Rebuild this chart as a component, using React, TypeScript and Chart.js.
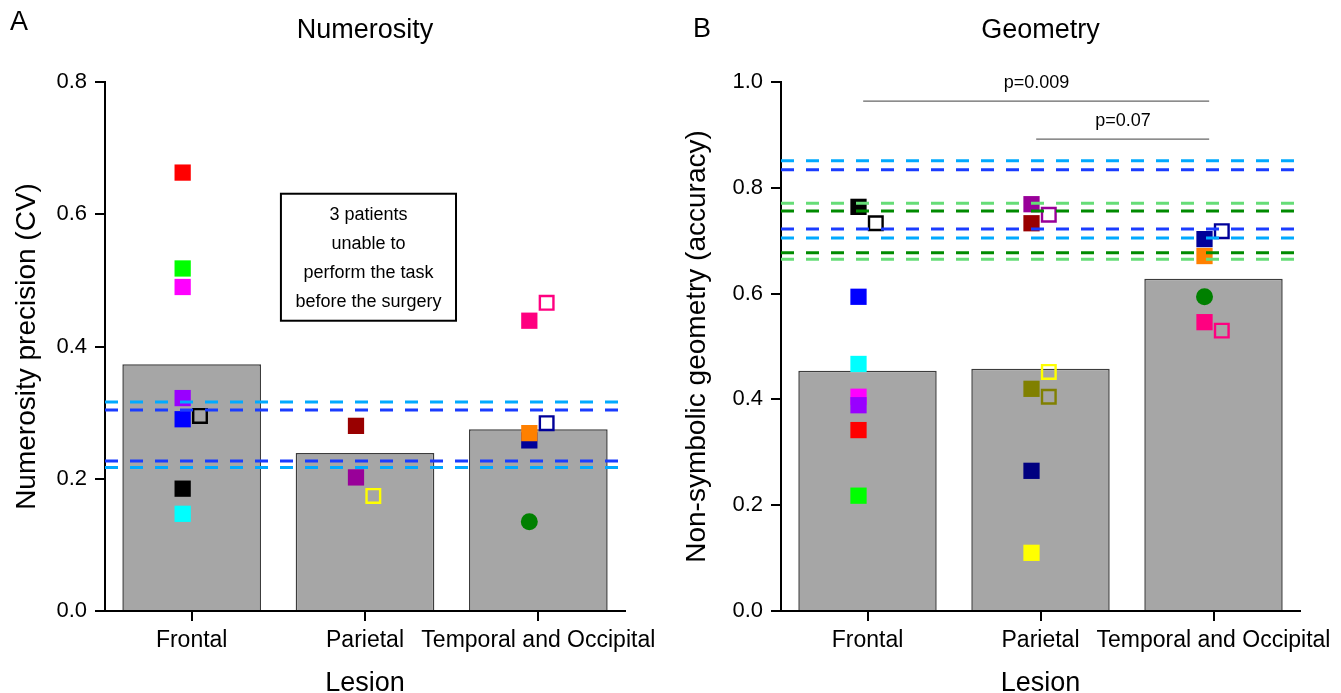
import React, { useEffect, useRef } from 'react';
import { Chart, registerables } from 'chart.js';

Chart.register(...registerables);

const FONT = '"Liberation Sans", Arial, Helvetica, sans-serif';

const categories = ['Frontal', 'Parietal', 'Temporal and Occipital'];

// ---------- Panel A : Numerosity ----------
const numBarValues = [0.373, 0.239, 0.275];
const numFilledCategory = [0, 0, 0, 0, 0, 0, 0, 1, 1, 2, 2, 2];
const numFilledValues = [0.663, 0.518, 0.490, 0.322, 0.290, 0.185, 0.147, 0.280, 0.202, 0.439, 0.258, 0.269];
const numFilledColors = ['#ff0000', '#00ff00', '#ff00ff', '#9900ff', '#0000ff', '#000000', '#00ffff', '#990000', '#990099', '#ff0080', '#000099', '#ff8000'];
const numOpenCategory = [0, 1, 2, 2];
const numOpenValues = [0.295, 0.174, 0.466, 0.284];
const numOpenColors = ['#000000', '#ffff00', '#ff0080', '#000099'];
const numCircleCategory = [2];
const numCircleValues = [0.135];
const numCircleColors = ['#008000'];
const numRefValues = [0.316, 0.304, 0.227, 0.217];
const numRefColors = ['#00aaff', '#1a3cff', '#1a3cff', '#00aaff'];
const numYMax = 0.8;
const numNote = ['3 patients', 'unable to', 'perform the task', 'before the surgery'];
const numNoteCategory = 1.02;
const numNoteValue = 0.535;

// ---------- Panel B : Geometry ----------
const geoBarValues = [0.454, 0.458, 0.628];
const geoFilledCategory = [0, 0, 0, 0, 0, 0, 0, 1, 1, 1, 1, 1, 2, 2, 2];
const geoFilledValues = [0.764, 0.594, 0.467, 0.405, 0.389, 0.342, 0.218, 0.769, 0.733, 0.420, 0.265, 0.110, 0.703, 0.671, 0.546];
const geoFilledColors = ['#000000', '#0000ff', '#00ffff', '#ff00ff', '#9900ff', '#ff0000', '#00ff00', '#990099', '#990000', '#808000', '#000080', '#ffff00', '#000099', '#ff8000', '#ff0080'];
const geoOpenCategory = [0, 1, 1, 1, 2, 2];
const geoOpenValues = [0.733, 0.749, 0.452, 0.405, 0.718, 0.530];
const geoOpenColors = ['#000000', '#990099', '#ffff00', '#808000', '#000099', '#ff0080'];
const geoCircleCategory = [2];
const geoCircleValues = [0.594];
const geoCircleColors = ['#008000'];
const geoRefValues = [0.851, 0.834, 0.771, 0.756, 0.722, 0.705, 0.677, 0.665];
const geoRefColors = ['#00aaff', '#1a3cff', '#66dd77', '#008a00', '#1a3cff', '#00aaff', '#008a00', '#66dd77'];
const geoCompFrom = [0, 1];
const geoCompTo = [2, 2];
const geoCompValues = [0.964, 0.892];
const geoCompLabels = ['p=0.009', 'p=0.07'];
const geoYMax = 1.0;

const FILLED_SHIFT = -0.052;
const OPEN_SHIFT = 0.048;

type Panel = {
  letter: string;
  title: string;
  yTitle: string;
  yMax: number;
  bars: number[];
  filledCat: number[];
  filledVal: number[];
  filledCol: string[];
  openCat: number[];
  openVal: number[];
  openCol: string[];
  circCat: number[];
  circVal: number[];
  circCol: string[];
  refVal: number[];
  refCol: string[];
  compFrom?: number[];
  compTo?: number[];
  compVal?: number[];
  compLab?: string[];
  note?: string[];
  noteCat?: number;
  noteVal?: number;
  width: number;
  yAxisWidth: number;
  rightPad: number;
  letterX: number;
  letterY: number;
};

function buildConfig(p: Panel): any {
  const datasets: any[] = [];
  p.refVal.forEach((v, i) => {
    datasets.push({
      type: 'line',
      data: [{ x: -0.5, y: v }, { x: 2.5, y: v }],
      borderColor: p.refCol[i],
      borderWidth: 3,
      borderDash: [13, 12],
      pointRadius: 0,
      fill: false,
      order: 0,
    });
  });
  if (p.compFrom && p.compTo && p.compVal) {
    p.compVal.forEach((v, i) => {
      datasets.push({
        type: 'line',
        data: [{ x: p.compFrom![i] - 0.025, y: v }, { x: p.compTo![i] - 0.025, y: v }],
        borderColor: '#666666',
        borderWidth: 1.2,
        pointRadius: 0,
        fill: false,
        order: 0,
      });
    });
  }
  datasets.push({
    type: 'scatter',
    data: p.openCat.map((c, i) => ({ x: c + OPEN_SHIFT, y: p.openVal[i] })),
    pointStyle: 'rect',
    pointRadius: 9.6,
    pointBackgroundColor: 'rgba(0,0,0,0)',
    pointBorderColor: p.openCol,
    pointBorderWidth: 2.4,
    order: 1,
  });
  datasets.push({
    type: 'scatter',
    data: p.circCat.map((c, i) => ({ x: c + FILLED_SHIFT, y: p.circVal[i] })),
    pointStyle: 'circle',
    pointRadius: 8.5,
    pointBackgroundColor: p.circCol,
    pointBorderWidth: 0,
    order: 1,
  });
  datasets.push({
    type: 'scatter',
    data: p.filledCat.map((c, i) => ({ x: c + FILLED_SHIFT, y: p.filledVal[i] })),
    pointStyle: 'rect',
    pointRadius: 11.5,
    pointBackgroundColor: p.filledCol,
    pointBorderWidth: 0,
    order: 2,
  });
  datasets.push({
    type: 'bar',
    data: p.bars.map((v, i) => ({ x: i, y: v })),
    backgroundColor: '#a6a6a6',
    borderColor: '#3c3c3c',
    borderWidth: 1.5,
    barPercentage: 0.8,
    categoryPercentage: 1,
    order: 3,
  });

  const textPlugin = {
    id: 'panelText',
    afterDraw(chart: any) {
      const ctx = chart.ctx;
      const area = chart.chartArea;
      const xs = chart.scales.x;
      const ys = chart.scales.y;
      ctx.save();
      ctx.fillStyle = '#000';
      ctx.textAlign = 'center';
      ctx.textBaseline = 'middle';
      ctx.font = `27px ${FONT}`;
      ctx.fillText(p.letter, p.letterX, p.letterY);
      ctx.fillText(p.title, (area.left + area.right) / 2, 31);
      ctx.textBaseline = 'alphabetic';
      ctx.fillText('Lesion', (area.left + area.right) / 2, 691);
      ctx.save();
      ctx.translate(27, (area.top + area.bottom) / 2);
      ctx.rotate(-Math.PI / 2);
      ctx.textBaseline = 'middle';
      ctx.font = `28px ${FONT}`;
      ctx.fillText(p.yTitle, 0, 0);
      ctx.restore();

      if (p.compVal && p.compLab && p.compFrom && p.compTo) {
        ctx.font = `18px ${FONT}`;
        ctx.textBaseline = 'middle';
        p.compVal.forEach((v, i) => {
          const cx = (xs.getPixelForValue(p.compFrom![i]) + xs.getPixelForValue(p.compTo![i])) / 2 - 4;
          ctx.fillText(p.compLab![i], cx, ys.getPixelForValue(v) - 18);
        });
      }

      if (p.note && p.noteCat !== undefined && p.noteVal !== undefined) {
        ctx.font = `18px ${FONT}`;
        const lineH = 29;
        const widths = p.note.map((t) => ctx.measureText(t).width);
        const w = Math.max(...widths) + 29;
        const h = p.note.length * lineH + 11;
        const cx = xs.getPixelForValue(p.noteCat);
        const cy = ys.getPixelForValue(p.noteVal);
        ctx.fillStyle = '#fff';
        ctx.fillRect(cx - w / 2, cy - h / 2, w, h);
        ctx.strokeStyle = '#000';
        ctx.lineWidth = 2;
        ctx.strokeRect(cx - w / 2, cy - h / 2, w, h);
        ctx.fillStyle = '#000';
        ctx.textBaseline = 'middle';
        p.note.forEach((t, i) => {
          ctx.fillText(t, cx, cy - ((p.note!.length - 1) / 2) * lineH + i * lineH + 1);
        });
      }
      ctx.restore();
    },
  };

  return {
    type: 'bar',
    data: { datasets },
    plugins: [textPlugin],
    options: {
      animation: false,
      responsive: false,
      events: [],
      layout: { padding: { left: 0, right: p.rightPad, top: 82, bottom: 0 } },
      plugins: { legend: { display: false }, tooltip: { enabled: false }, title: { display: false } },
      scales: {
        x: {
          type: 'linear',
          min: -0.5,
          max: 2.5,
          offset: false,
          afterBuildTicks: (s: any) => {
            s.ticks = categories.map((_, i) => ({ value: i }));
          },
          afterFit: (s: any) => {
            s.height = 82;
            s.paddingLeft = 0;
            s.paddingRight = 0;
          },
          ticks: {
            autoSkip: false,
            maxRotation: 0,
            minRotation: 0,
            padding: 6,
            color: '#000',
            font: { family: FONT, size: 23 },
            callback: (v: any) => categories[v] ?? '',
          },
          grid: { offset: false, drawOnChartArea: false, drawTicks: true, tickLength: 10, color: '#000', lineWidth: 2 },
          border: { display: true, color: '#000', width: 2 },
        },
        y: {
          type: 'linear',
          min: 0,
          max: p.yMax,
          afterFit: (s: any) => {
            s.width = p.yAxisWidth;
            s.paddingTop = 0;
            s.paddingBottom = 0;
          },
          ticks: {
            stepSize: 0.2,
            padding: 8,
            color: '#000',
            font: { family: FONT, size: 22 },
            callback: (v: any) => Number(v).toFixed(1),
          },
          grid: { drawOnChartArea: false, drawTicks: true, tickLength: 10, color: '#000', lineWidth: 2 },
          border: { display: true, color: '#000', width: 2 },
        },
      },
    },
  };
}

function PanelChart({ panel, left }: { panel: Panel; left: number }) {
  const ref = useRef<HTMLCanvasElement | null>(null);
  useEffect(() => {
    if (!ref.current) return;
    const chart = new Chart(ref.current, buildConfig(panel));
    return () => chart.destroy();
  }, [panel]);
  return (
    <canvas
      ref={ref}
      width={panel.width}
      height={693}
      style={{ position: 'absolute', left, top: 0, width: panel.width, height: 693 }}
    />
  );
}

const panelA: Panel = {
  letter: 'A',
  title: 'Numerosity',
  yTitle: 'Numerosity precision (CV)',
  yMax: numYMax,
  bars: numBarValues,
  filledCat: numFilledCategory,
  filledVal: numFilledValues,
  filledCol: numFilledColors,
  openCat: numOpenCategory,
  openVal: numOpenValues,
  openCol: numOpenColors,
  circCat: numCircleCategory,
  circVal: numCircleValues,
  circCol: numCircleColors,
  refVal: numRefValues,
  refCol: numRefColors,
  note: numNote,
  noteCat: numNoteCategory,
  noteVal: numNoteValue,
  width: 670,
  yAxisWidth: 105,
  rightPad: 45,
  letterX: 19,
  letterY: 23,
};

const panelB: Panel = {
  letter: 'B',
  title: 'Geometry',
  yTitle: 'Non-symbolic geometry (accuracy)',
  yMax: geoYMax,
  bars: geoBarValues,
  filledCat: geoFilledCategory,
  filledVal: geoFilledValues,
  filledCol: geoFilledColors,
  openCat: geoOpenCategory,
  openVal: geoOpenValues,
  openCol: geoOpenColors,
  circCat: geoCircleCategory,
  circVal: geoCircleValues,
  circCol: geoCircleColors,
  refVal: geoRefValues,
  refCol: geoRefColors,
  compFrom: geoCompFrom,
  compTo: geoCompTo,
  compVal: geoCompValues,
  compLab: geoCompLabels,
  width: 671,
  yAxisWidth: 111,
  rightPad: 41,
  letterX: 32,
  letterY: 30,
};

export default function App() {
  return (
    <div style={{ position: 'absolute', left: 0, top: 0, width: 1341, height: 693, background: '#fff', overflow: 'hidden' }}>
      <PanelChart panel={panelA} left={0} />
      <PanelChart panel={panelB} left={670} />
    </div>
  );
}
